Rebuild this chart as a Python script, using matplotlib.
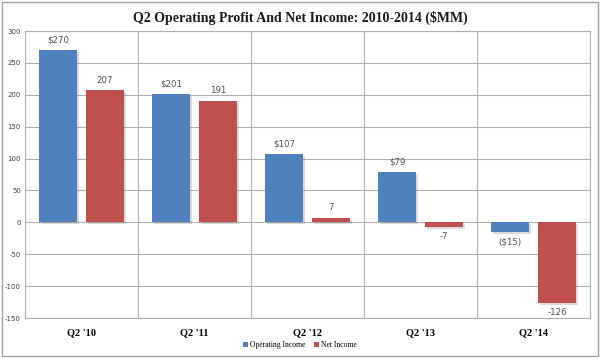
import matplotlib
matplotlib.use("Agg")
import matplotlib.pyplot as plt
import matplotlib.patheffects as pe
from matplotlib.patches import Rectangle
import numpy as np

categories = ["Q2 '10", "Q2 '11", "Q2 '12", "Q2 '13", "Q2 '14"]
operating_income = [270, 201, 107, 79, -15]
net_income = [207, 191, 7, -7, -126]
op_labels = ["$270", "$201", "$107", "$79", "($15)"]
net_labels = ["207", "191", "7", "-7", "-126"]
yticks = [-150, -100, -50, 0, 50, 100, 150, 200, 250, 300]

blue = "#4F81BD"
red = "#C0504D"

fig = plt.figure(figsize=(6.0, 3.58), dpi=100)
fig.patches.append(Rectangle((0.004, 0.006), 0.992, 0.988, transform=fig.transFigure,
                             fill=False, edgecolor="#a0a0a0", linewidth=1.0))
ax = fig.add_axes([0.0417, 0.1117, 0.9416, 0.8017])

x = np.arange(len(categories))
w = 0.33
off = 0.208
shadow = [pe.SimplePatchShadow(offset=(1.5, -1.5), shadow_rgbFace="#888888", alpha=0.3), pe.Normal()]
b1 = ax.bar(x - off, operating_income, w, color=blue, label="Operating Income", zorder=3)
b2 = ax.bar(x + off, net_income, w, color=red, label="Net Income", zorder=3)
for b in list(b1) + list(b2):
    b.set_path_effects(shadow)

for xi, v, lab in zip(x - off, operating_income, op_labels):
    ax.annotate(lab, (xi, v), xytext=(0, 4 if v >= 0 else -4), textcoords="offset points",
                ha="center", va="bottom" if v >= 0 else "top", fontsize=6.2,
                color="#505050", family="DejaVu Sans")
for xi, v, lab in zip(x + off, net_income, net_labels):
    ax.annotate(lab, (xi, v), xytext=(0, 4 if v >= 0 else -4), textcoords="offset points",
                ha="center", va="bottom" if v >= 0 else "top", fontsize=6.2,
                color="#505050", family="DejaVu Sans")

ax.set_xlim(-0.5, len(categories) - 0.5)
ax.set_ylim(-150, 300)
ax.set_yticks(yticks)
ax.set_yticklabels([str(t) for t in yticks], fontsize=5, color="#404040")
ax.set_xticks(x)
ax.set_xticklabels(categories, fontsize=7.5, fontweight="bold", family="Liberation Serif")
ax.tick_params(axis="both", length=0, pad=3)
ax.tick_params(axis="x", pad=7)
for t in yticks:
    ax.axhline(t, color="#b0b0b0", linewidth=0.8, zorder=1)
for b in np.arange(-0.5, len(categories), 1.0):
    ax.axvline(b, color="#b0b0b0", linewidth=0.8, zorder=1)
for s in ax.spines.values():
    s.set_color("#b0b0b0")
    s.set_linewidth(0.8)

fig.suptitle("Q2 Operating Profit And Net Income: 2010-2014 ($MM)", x=0.5, y=0.97,
             fontsize=10, fontweight="bold", family="Liberation Serif", color="#1a1a1a")

leg = fig.legend(handles=[b1, b2], loc="center", bbox_to_anchor=(0.5, 0.035), ncol=2,
                 frameon=False, prop={"family": "Liberation Serif", "size": 5.5},
                 handlelength=0.6, handleheight=0.6, handletextpad=0.3, columnspacing=1.2)
for h in leg.legend_handles:
    h.set_path_effects([])

fig.savefig("out.png", dpi=100)
